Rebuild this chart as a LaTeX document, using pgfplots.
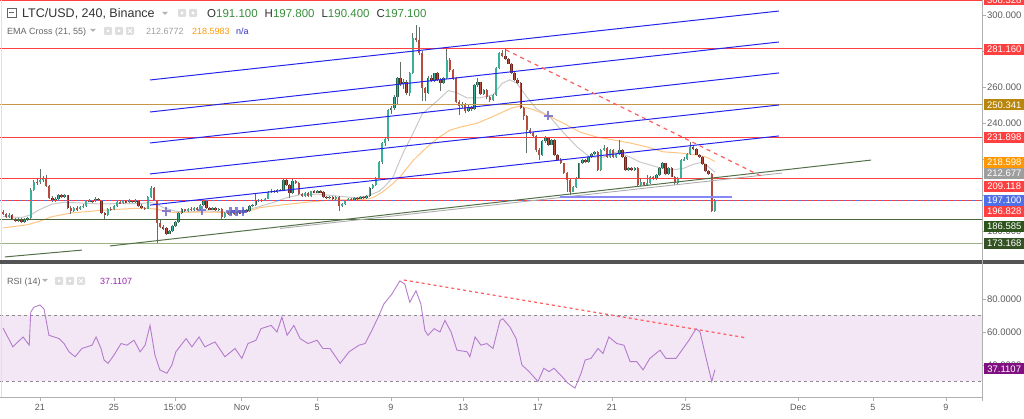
\documentclass[border=0pt]{standalone}
\usepackage{fontspec}
\setmainfont{Liberation Sans}
\usepackage{pgfplots}
\usepackage{pgfplotstable}
\pgfplotsset{compat=1.18}

\definecolor{upfill}{RGB}{56,176,154}
\definecolor{upedge}{RGB}{34,96,76}
\definecolor{dnfill}{RGB}{186,74,60}
\definecolor{dnedge}{RGB}{112,36,28}
\definecolor{wick}{RGB}{96,112,104}
\definecolor{lvred}{RGB}{255,64,64}
\definecolor{lvgold}{RGB}{196,150,72}
\definecolor{tggold}{RGB}{184,134,11}
\definecolor{lvgreen}{RGB}{72,104,60}
\definecolor{tggreen}{RGB}{44,84,28}
\definecolor{lvsage}{RGB}{156,176,136}
\definecolor{tgsage}{RGB}{52,82,36}
\definecolor{pxblue}{RGB}{80,112,232}
\definecolor{chblue}{RGB}{36,36,238}
\definecolor{trgreen}{RGB}{84,112,72}
\definecolor{trgray}{RGB}{172,172,172}
\definecolor{emagray}{RGB}{200,200,200}
\definecolor{emaorange}{RGB}{255,196,130}
\definecolor{tgorange}{RGB}{255,152,0}
\definecolor{tggray}{RGB}{158,158,158}
\definecolor{crossc}{RGB}{96,88,200}
\definecolor{rsiline}{RGB}{180,124,204}
\definecolor{rsiband}{RGB}{243,230,245}
\definecolor{rsitag}{RGB}{128,16,128}
\definecolor{rsitext}{RGB}{156,39,176}
\definecolor{axgray}{RGB}{176,176,176}
\definecolor{tickgray}{RGB}{90,90,90}
\definecolor{hdark}{RGB}{50,50,50}
\definecolor{hgray}{RGB}{100,100,100}
\definecolor{ohlcgreen}{RGB}{56,142,60}
\definecolor{iconbg}{RGB}{222,222,222}
\definecolor{napblue}{RGB}{50,50,200}
\definecolor{sepgray}{RGB}{84,84,84}

\newcommand\ft{\fontsize{9.5}{11}\selectfont}
\newcommand\fs{\fontsize{9}{10}\selectfont}

% 4h candles, u = candle index (6 per day, 0 = 21 Oct 00:00)
\pgfplotstableread{
u o h l c
-12 190.5 191.5 188.8 189.5
-11 189.5 190.2 187.5 188
-10 188 189.8 187.2 189
-9 189 189.5 186 186.5
-8 186.5 187 184.8 185.5
-7 185.5 187.2 185 186.5
-6 186.5 187 184.5 185
-5 185 187.3 184.6 186.5
-4 186.5 187.8 185.8 187
-3 187 204 186.5 203
-2 203 208.5 202 207.5
-1 207.5 209 205.5 207
0 207 214.4 206 208.5
1 208.5 210.5 207.5 209
2 209 211 204.5 205
3 205 205.5 198 198.5
4 198.5 199.5 196 197
5 197 198.8 196.2 198
6 198 200.5 197 200
7 200 200.8 198.5 199
8 199 200.5 198.5 199.8
9 199.8 200.2 192.5 193
10 193 193.8 189.5 191
11 191 193.5 190.5 193
12 193 193.8 191.2 192
13 192 194 191.5 193.5
14 193.5 195 193 194
15 194 197 193.5 196.5
16 196.5 197.8 196 197
17 197 197.5 195.8 196.5
18 196.5 199 196 198
19 198 198.5 196.5 197
20 197 197.5 189.5 190
21 190 190.8 186 189
22 189 193 188.5 192.5
23 192.5 193.2 191.2 192
24 192 194.5 191.5 194
25 194 196.5 193.5 196
26 196 196.8 195 195.5
27 195.5 197.2 195 196.5
28 196.5 197 195.5 196
29 196 197.8 195.5 197
30 197 197.5 195.8 196.3
31 196.3 197.6 195.8 197
32 197 197.3 193.5 194
33 194 194.8 192.5 193
34 193 193.6 191.8 192.5
35 192.5 199.5 192 199
36 199 205 198.5 204
37 204 204.5 196.5 197
38 197 197.5 173.3 184.5
39 184.5 186 181.5 182
40 182 183.5 180.8 181.5
41 181.5 182.2 178 178.5
42 178.5 180.8 178.2 180
43 180 183.5 179.5 183
44 183 185.8 182.5 185
45 185 190.5 184.5 190
46 190 192.8 189.5 192
47 192 192.5 190.5 191
48 191 193 190.5 192.5
49 192.5 193.2 191 191.5
50 191.5 193.5 191 193
51 193 193.5 191.5 192
52 192 195 191.5 194.5
53 194.5 197.5 194 196.5
54 196.5 197 192.5 193
55 193 193.6 191.5 192
56 192 193.5 191.5 193
57 193 193.4 191 191.5
58 191.5 193 191 192.5
59 192.5 193 186.3 188
60 188 190.5 187.5 190
61 190 190.6 189 189.5
62 189.5 191.5 189 191
63 191 191.4 189 189.5
64 189.5 191 189 190.5
65 190.5 191 189.5 190
66 190 192 189.6 191.5
67 191.5 192 190.5 191
68 191 194.5 190.6 194
69 194 195 193.5 194.5
70 194.5 201 194 196.7
71 196.7 198 196 197.5
72 197.5 198 196.3 197
73 197 198.6 196.5 198
74 198 202.2 197.6 201.7
75 201.7 203.2 201 202.5
76 202.5 203 201 201.5
77 201.5 203.5 201 203
78 203 203.6 202 202.5
79 202.5 209.4 202 208.3
80 208.3 208.8 205 205.5
81 205.5 206 198.5 201
82 201 208.8 200.5 208
83 208 208.5 206 206.5
84 206.5 207 200 200.5
85 200.5 201.2 199 199.5
86 199.5 201.5 199 201
87 201 201.5 198.8 199.3
88 199.3 202.5 199 202
89 202 202.6 201 201.5
90 201.5 203 201 202.3
91 202.3 202.8 201 201.5
92 201.5 202 198.5 199
93 199 199.5 197.8 198.3
94 198.3 199.6 197.8 199
95 199 199.4 197.5 198
96 198 199.3 197.5 198.8
97 198.8 199.2 191.3 194
98 194 195.5 193.5 195
99 195 197.5 194.5 197
100 197 198.5 196.5 198
101 198 198.6 197 197.5
102 197.5 199 197 198.5
103 198.5 199 197.5 198
104 198 199.5 197.6 199
105 199 199.5 198 198.5
106 198.5 200 198 199.5
107 199.5 204.5 199 204
108 204 206 203.5 205.5
109 205.5 210 205 209.4
110 209.4 219 209 218.3
111 218.3 229.5 217.5 228.9
112 228.9 232 227 231
113 231 247.5 230 247
114 247 249.5 245 248.3
115 248.3 255.5 247 254.5
116 254.5 265.5 250 265
117 265 274 260.5 261.5
118 261.5 264.5 259 263
119 263 264 255.5 256.7
120 256.7 268.5 255 267.8
121 267.8 290 267 287.2
122 287.2 294.4 285 286.3
123 286.3 293.5 278 279
124 279 280 252 259.3
125 259.3 260 252 256.7
126 256.7 266 256 265
127 265 266.7 262.5 263.5
128 263.5 268 263 267.5
129 267.5 268.5 263.5 264
130 264 264.8 258 262
131 262 265.8 261.5 265
132 265 282.4 264.5 275
133 275 276 268.5 269.4
134 269.4 270 264 264.8
135 264.8 265.5 251 251.9
136 251.9 252.5 244.4 249.5
137 249.5 251.5 248.5 250.5
138 250.5 251 245.5 246.5
139 246.5 249.8 246 249
140 249 249.5 246.5 247.5
141 247.5 261.5 247 261
142 261 265 260 262.5
143 262.5 263 255.5 256
144 256 258.8 255.5 258.3
145 258.3 258.8 253.5 254.5
146 254.5 255 251.8 252.5
147 252.5 256 252 255.6
148 255.6 271 255 270.6
149 270.6 279.5 270 278.9
150 278.9 280.6 276.5 277
151 277 281.5 275 275.5
152 275.5 276 272.5 273
153 273 273.5 267.3 267.8
154 267.8 268.3 263.5 264
155 264 264.8 261.5 262
156 262 262.5 248 248.3
157 248.3 249 241.9 243.7
158 243.7 244.2 223.3 236.3
159 236.3 237.5 233.8 234.5
160 234.5 235.2 232.5 233
161 233 233.5 224 225
162 225 226 219.4 222.2
163 222.2 230.3 221.8 229.8
164 229.8 232.5 229 231.7
165 231.7 232.2 227.5 228
166 228 231.3 227.6 230.7
167 230.7 231.2 221.8 222.2
168 222.2 222.8 219 219.4
169 219.4 220.4 217 217.6
170 217.6 218 211.5 212
171 212 212.6 201.9 208.3
172 208.3 208.8 200 201.9
173 201.9 205 201.4 204.6
174 204.6 209.8 204 209.3
175 209.3 218 209 217.6
176 217.6 220 217 219.4
177 219.4 220 218 218.5
178 218.5 221.8 218 221.3
179 221.3 223.5 220.8 223
180 223 224.5 222.5 224
181 224 224.5 213.5 213.9
182 213.9 225.5 213.5 225
183 225 228 224.5 226
184 226 226.5 220.8 221.3
185 221.3 225.5 220.8 225
186 225 225.5 220.8 221.3
187 221.3 223.5 220.8 223
188 223 230.7 222.5 225
189 225 225.5 220.8 221.3
190 221.3 221.8 213.5 213.9
191 213.9 215.3 213.4 214.8
192 214.8 215.3 213.5 214
193 214 215.6 213.5 215
194 215 215.5 205 205.6
195 205.6 208.8 205 207
196 207 207.5 205.2 205.8
197 205.8 211 205.3 206.5
198 206.5 210.5 206 210
199 210 210.6 208.5 209
200 209 211.5 208.5 211
201 211 215.3 210.5 214.8
202 214.8 218.2 214.3 217.6
203 217.6 218 211 211.5
204 211.5 215.3 211 214.8
205 214.8 215.3 209.8 210.2
206 210.2 210.7 205.5 206.5
207 206.5 209.8 206 209.3
208 209.3 219.9 208.8 219.4
209 219.4 221 218.8 220
210 220 223.5 219.5 223
211 223 229.6 222.5 226.8
212 226.8 227.5 225 225.5
213 225.5 226 222 222.5
214 222.5 223 220.5 221
215 221 221.5 216.5 217
216 217 217.5 213 213.5
217 213.5 214 211 211.5
218 211.5 212 190.5 191.1
219 191.1 197.8 190.4 197.1
}\candles

\pgfplotstableread{
u v
-12 188
-6 187.5
-3 189
0 192
4 195
8 196
14 195.5
20 195
26 195.3
32 195.2
36 195.8
38 195
40 193
44 191
48 190.5
54 191.2
60 190.5
66 191.3
70 193
76 196
80 198.5
84 200
90 200.5
96 199.5
102 198.5
106 199.3
110 202
112 205
114.6 210
116 216
118 224
121 234
124 245
128.7 252
132.5 258
135 257
138.5 254
142.8 254
147 255.6
150 262
152.5 264
154.8 262
158 254.4
161 248
165.5 243.3
169.7 235
174.3 226.7
178.5 221
182.7 221
187.2 224
191.5 221
194.7 218.3
200.2 215.6
204.4 213.9
208.7 214.7
211.9 217
215.1 218.3
219 212.7
}\emafast

\pgfplotstableread{
u v
-12 181.7
-4 183.5
0 185.5
4 188
10 190
20 191.5
30 192.5
35 192.8
38 192
43 190.3
49 190.5
60 190.4
67 190.7
71.4 193
78 194.4
86.6 196
94 197.2
104.8 197.5
108 198.5
111 201.5
114 205.5
116.8 210
121 219
125.5 226.5
129 231.5
133 236
137 238
141.7 239.8
145.5 242.5
149.3 245.4
153 248.3
155.8 249.4
160 247.5
164.5 244.4
169.7 240
175.2 235
180.7 232.2
186 230.6
191.5 228.9
197 226.7
202.2 224
207.7 223.3
213.2 222.2
216.4 221
219 218.6
}\emaslow

\pgfplotstableread{
u v
-12 62.4
-8.8 51
-5.5 57
-3.5 52
-3 72
-2 75
0 76.4
1.3 74
2.9 58
6.2 56
7.8 53
9.4 48
11.4 45
13.6 50
16.9 52
18.2 57
19.8 50
20.8 43
22.1 41
24 46
26.3 53
28.2 52
30.5 55
32.5 48
34.1 52
35.7 64
37.3 46
38.9 37
41.2 35
42.8 40
44.1 48
47.4 56
49.3 51
51.6 57
53.5 51
56.8 54
60 45
63.3 50
65.5 44
67.5 53
70.1 55
71.7 62
75 64
76.9 60
78.5 69
80.2 58
82.4 64
84.4 56
87 53
89.9 55
91.8 50
94.1 50
97.4 41
100.3 48
103.5 52
105.5 53
107.7 61
110 70
111.6 77
114.2 83
116.8 91
118.4 89
120 78
122 85
123.6 77
124.9 61
125.9 58
127.9 62
129.8 60
131.4 67
133.4 60
135.3 49
138.6 48
139.5 45
141.2 57
143.1 52
145 53
147 50
149.3 67
150.2 68
152.5 63
154.5 56
156.4 40
158.7 36
161.6 30
163.5 38
165.2 36
166.8 38
169.4 33
171.3 29
173.6 26
175.6 35
176.9 43
178.8 44
181.1 50
182.7 47
184.6 57
187.2 53
189.5 52
191.5 42
193.7 42
195.7 37
197.9 44
201.2 49
203.1 44
206.4 44
208.7 50
210.6 55
212.9 62
214.2 60
215.8 47
218 30
219 37.1
}\rsi

\newcommand\tag[3]{\node[fill=#2, text=white, font=\ft, inner sep=0pt, minimum width=40pt, minimum height=11pt, anchor=west] at (axis cs:306.35,#1) {#3};}
\newcommand\tickmark[1]{\draw[axgray, line width=0.8pt] (axis cs:305.7,#1) -- ++(4pt,0pt);}
\newcommand\tick[2]{\tickmark{#1}\node[font=\ft, text=tickgray, anchor=west, inner sep=0pt] at (axis cs:307.3,#1) {#2};}

\begin{document}
\begin{tikzpicture}
\path[use as bounding box] (0,0) rectangle (1024pt,419pt);

% ---------- price pane ----------
\begin{axis}[at={(0pt,159pt)}, anchor=south west, scale only axis,
  width=982pt, height=260pt, xmin=-12.98, xmax=305.7, ymin=163.9, ymax=308.33,
  axis lines=none, clip=false]

\addplot[emagray, line width=1pt] table[x=u, y=v] {\emafast};
\addplot[emaorange, line width=1pt] table[x=u, y=v] {\emaslow};

% wicks
\addplot[draw=none, error bars/.cd, y dir=both, y explicit, error mark=none,
  error bar style={line width=0.8pt, draw=wick, solid}]
  table[x=u, y expr={(\thisrow{h}+\thisrow{l})/2}, y error expr={(\thisrow{h}-\thisrow{l})/2}] {\candles};
% up bodies
\addplot[draw=none, restrict expr to domain={\thisrow{c}-\thisrow{o}}{0:10000},
  error bars/.cd, y dir=both, y explicit, error mark=none,
  error bar style={line width=2.4pt, draw=upedge, solid}]
  table[x=u, y expr={(\thisrow{o}+\thisrow{c})/2}, y error expr={abs(\thisrow{c}-\thisrow{o})/2}] {\candles};
\addplot[draw=none, restrict expr to domain={\thisrow{c}-\thisrow{o}}{0:10000},
  error bars/.cd, y dir=both, y explicit, error mark=none,
  error bar style={line width=1.5pt, draw=upfill, solid}]
  table[x=u, y expr={(\thisrow{o}+\thisrow{c})/2}, y error expr={abs(\thisrow{c}-\thisrow{o})/2}] {\candles};
% down bodies
\addplot[draw=none, restrict expr to domain={\thisrow{o}-\thisrow{c}}{0.0001:10000},
  error bars/.cd, y dir=both, y explicit, error mark=none,
  error bar style={line width=2.4pt, draw=dnedge, solid}]
  table[x=u, y expr={(\thisrow{o}+\thisrow{c})/2}, y error expr={abs(\thisrow{c}-\thisrow{o})/2}] {\candles};
\addplot[draw=none, restrict expr to domain={\thisrow{o}-\thisrow{c}}{0.0001:10000},
  error bars/.cd, y dir=both, y explicit, error mark=none,
  error bar style={line width=1.5pt, draw=dnfill, solid}]
  table[x=u, y expr={(\thisrow{o}+\thisrow{c})/2}, y error expr={abs(\thisrow{c}-\thisrow{o})/2}] {\candles};

% horizontal levels
\addplot[lvred, line width=1pt] coordinates {(-12.98,308.2) (305.7,308.2)};
\addplot[lvred, line width=0.9pt] coordinates {(-12.98,281.16) (305.7,281.16)};
\addplot[lvgold, line width=0.9pt] coordinates {(-12.98,250.341) (305.7,250.341)};
\addplot[lvred, line width=0.9pt] coordinates {(-12.98,231.898) (305.7,231.898)};
\addplot[lvred, line width=0.9pt] coordinates {(-12.98,209.118) (305.7,209.118)};
\addplot[lvred, line width=0.9pt] coordinates {(-12.98,196.828) (305.7,196.828)};
\addplot[pxblue, line width=0.9pt, dotted] coordinates {(-12.98,197.1) (305.7,197.1)};
\addplot[lvgreen, line width=0.9pt] coordinates {(-12.98,186.585) (305.7,186.585)};
\addplot[lvsage, line width=1.5pt] coordinates {(-12.98,173.168) (305.7,173.168)};

% channel
\addplot[chblue, line width=1pt] coordinates {(35.7,263.9) (239.8,302.2)};
\addplot[chblue, line width=1pt] coordinates {(35.7,246.1) (239.8,285.0)};
\addplot[chblue, line width=1pt] coordinates {(35.7,228.9) (239.8,267.8)};
\addplot[chblue, line width=1pt] coordinates {(35.7,211.7) (239.8,250.0)};
\addplot[chblue, line width=1pt] coordinates {(35.7,194.4) (239.8,232.8)};

% trend lines
\addplot[trgreen, line width=1pt] coordinates {(22.7,171.7) (269.7,219.4)};
\addplot[trgreen, line width=1pt] coordinates {(-11.4,165.6) (13.6,169.4)};
\addplot[trgray, line width=0.9pt] coordinates {(77.9,181.4) (240.8,212.2)};
\addplot[lvred!85, line width=1.2pt, dash pattern=on 4pt off 4pt] coordinates {(151.2,280.6) (234.6,210.0)};
\addplot[chblue!55, line width=1.8pt] coordinates {(168.8,198.9) (224.6,198.9)};

% crosses
\addplot[only marks, mark=+, mark size=4.5pt, line width=2.4pt, crossc, opacity=0.75]
  coordinates {(40.9,191.1) (52.5,191.6) (61.8,190.8) (63.8,190.8) (65.8,190.8) (164.9,243.9)};

% price scale (labels hidden behind tags are left out)
\tick{300}{300.000}
\tickmark{280}
\tick{260}{260.000}
\tick{240}{240.000}
\tickmark{220}
\tickmark{200}
\tick{180}{180.000}
\tag{308.33}{lvred}{308.328}
\tag{280.8}{lvred}{281.160}
\tag{250.0}{tggold}{250.341}
\tag{232.0}{lvred}{231.898}
\tag{218.3}{tgorange}{218.598}
\tag{211.9}{tggray}{212.677}
\tag{204.8}{lvred}{209.118}
\tag{196.94}{pxblue}{197.100}
\tag{190.83}{lvred}{196.828}
\tag{182.5}{tggreen}{186.585}
\tag{173.06}{tgsage}{173.168}
\end{axis}

% ---------- RSI pane ----------
\begin{axis}[at={(0pt,22pt)}, anchor=south west, scale only axis,
  width=982pt, height=132pt, xmin=-12.98, xmax=305.7, ymin=20.6, ymax=100.6,
  clip=false, axis x line=bottom, axis y line=none,
  x axis line style={-, draw=axgray, line width=0.8pt},
  xtick={0,24,43.8,65.5,89.9,113.9,137.3,161.6,185.6,209.6,246,270.3,294},
  xticklabels={21,25,15:00,Nov,5,9,13,17,21,25,Dec,5,9},
  xticklabel style={font=\fs, text=tickgray},
  tick align=outside, major tick length=4pt,
  x tick style={draw=axgray, line width=0.8pt}]
\addplot[fill=rsiband, draw=none] coordinates {(-12.98,30) (305.7,30) (305.7,70) (-12.98,70)};
\addplot[black!45, line width=0.8pt, dash pattern=on 3pt off 3pt] coordinates {(-12.98,70) (305.7,70)};
\addplot[black!45, line width=0.8pt, dash pattern=on 3pt off 3pt] coordinates {(-12.98,30) (305.7,30)};
\addplot[lvred!85, line width=1.2pt, dash pattern=on 3pt off 3pt] coordinates {(118.1,91.5) (229.4,56.4)};
\addplot[rsiline, line width=0.9pt] table[x=u, y=v] {\rsi};
\tick{80}{80.0000}
\tick{60}{60.0000}
\tick{40}{40.0000}
\tag{37.6}{rsitag}{37.1107}
\end{axis}

% frame pieces
\fill[sepgray] (0pt,154.5pt) rectangle (1024pt,159pt);
\draw[axgray, line width=0.8pt] (982pt,18pt) -- (982pt,419pt);
\draw[black!12, line width=0.6pt] (1.5pt,159pt) -- (1.5pt,419pt);
\draw[black!12, line width=0.6pt] (1.5pt,22pt) -- (1.5pt,154.5pt);

% headers
\draw[hgray, line width=0.7pt] (7pt,402pt) rectangle (16pt,411pt);
\draw[hgray, line width=0.7pt] (9pt,406.5pt) -- (14pt,406.5pt);
\node[anchor=base west, inner sep=0pt, text=hdark, font=\fontsize{12.5}{14}\selectfont] at (22pt,401.5pt) {LTC/USD, 240, Binance};
\fill[black!30] (162pt,407pt) -- (168pt,407pt) -- (165pt,404pt) -- cycle;
\fill[iconbg, rounded corners=1pt] (178pt,402pt) rectangle (186pt,410pt);
\fill[iconbg, rounded corners=1pt] (189pt,402pt) rectangle (197pt,410pt);
\fill[white] (182pt,406pt) circle (1.6pt);
\fill[white] (193pt,406pt) circle (1.6pt);
\node[anchor=base west, inner sep=0pt, font=\fontsize{11.5}{14}\selectfont] at (207pt,401.5pt)
  {\textcolor{hdark}{O}\textcolor{ohlcgreen}{191.100}\hspace{7pt}\textcolor{hdark}{H}\textcolor{ohlcgreen}{197.800}\hspace{7pt}\textcolor{hdark}{L}\textcolor{ohlcgreen}{190.400}\hspace{7pt}\textcolor{hdark}{C}\textcolor{ohlcgreen}{197.100}};

\node[anchor=base west, inner sep=0pt, text=hgray, font=\fs] at (7pt,384.8pt) {EMA Cross (21, 55)};
\fill[black!30] (90pt,390pt) -- (96pt,390pt) -- (93pt,387pt) -- cycle;
\foreach \x in {104,115,126} {\fill[iconbg, rounded corners=1pt] (\x pt,384pt) rectangle (\x pt+8pt,392pt);}
\fill[white] (108pt,388pt) circle (1.5pt);
\fill[white] (119pt,388pt) circle (1.5pt);
\draw[white, line width=0.8pt] (128pt,386pt) -- (132pt,390pt) (128pt,390pt) -- (132pt,386pt);
\node[anchor=base west, inner sep=0pt, text=tggray, font=\fs] at (146pt,384.8pt) {212.6772};
\node[anchor=base west, inner sep=0pt, text=tgorange, font=\fs] at (192pt,384.8pt) {218.5983};
\node[anchor=base west, inner sep=0pt, text=napblue, font=\fs] at (236pt,384.8pt) {n/a};

\node[anchor=base west, inner sep=0pt, text=hgray, font=\fs] at (7pt,134.8pt) {RSI (14)};
\fill[black!30] (42pt,140pt) -- (48pt,140pt) -- (45pt,137pt) -- cycle;
\foreach \x in {55,66,77} {\fill[iconbg, rounded corners=1pt] (\x pt,134pt) rectangle (\x pt+8pt,142pt);}
\fill[white] (59pt,138pt) circle (1.5pt);
\fill[white] (70pt,138pt) circle (1.5pt);
\draw[white, line width=0.8pt] (79pt,136pt) -- (83pt,140pt) (79pt,140pt) -- (83pt,136pt);
\node[anchor=base west, inner sep=0pt, text=rsitext, font=\fs] at (100pt,134.8pt) {37.1107};
\end{tikzpicture}
\end{document}
